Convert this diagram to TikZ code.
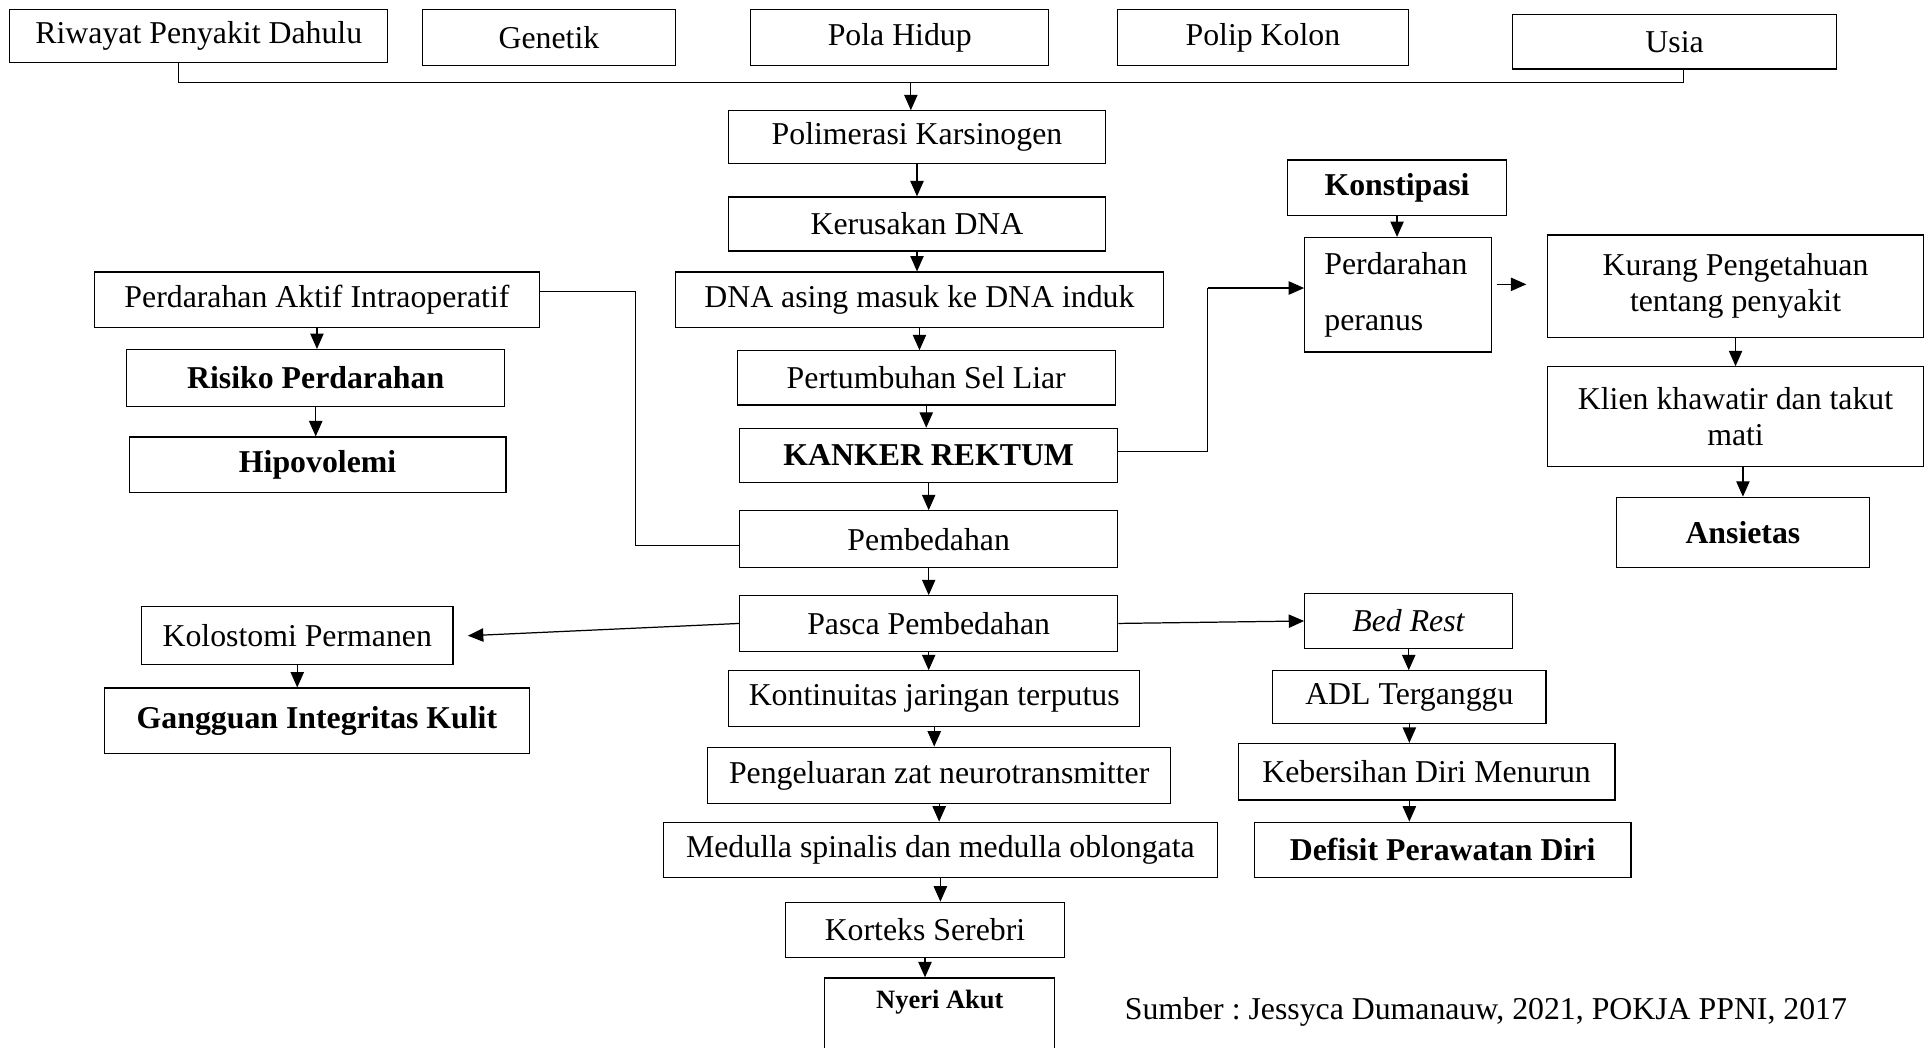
\documentclass[tikz,border=0pt]{standalone}
\usepackage{fontspec}
\setmainfont{Liberation Serif}
\usetikzlibrary{arrows.meta}
\frenchspacing

\tikzset{
  box/.style={draw, line width=0.6pt, inner sep=2pt, font=\fontsize{15.5}{18}\selectfont},
  boldbox/.style={box, font=\fontsize{15.5}{18}\selectfont\bfseries},
  sz/.style 2 args={minimum width=#1*0.6pt, minimum height=#2*0.6pt},
  arr/.style={line width=0.6pt, -{Triangle[length=7.5pt,width=6.5pt]}},
  ln/.style={line width=0.6pt}
}

\begin{document}
\begin{tikzpicture}[x=0.6pt, y=-0.6pt]
\useasboundingbox (0,0) rectangle (1568,851);

% faktor risiko
\node[box, sz={307}{43}] (riwayat) at (161.5,29.5) {Riwayat Penyakit Dahulu};
\node[box, sz={206}{45}] (genetik) at (446,30.5) {Genetik};
\node[box, sz={242}{45}] (polahidup) at (731,30.5) {Pola Hidup};
\node[box, sz={236}{45}] (polip) at (1026,30.5) {Polip Kolon};
\node[box, sz={263}{44}] (usia) at (1360.5,34) {Usia};

% jalur tengah
\node[box, sz={306}{43}] (polimer) at (745,111.5) {Polimerasi Karsinogen};
\node[box, sz={306}{44}] (kerusakan) at (745,182) {Kerusakan DNA};
\node[box, sz={396}{45}] (dnaasing) at (747,243.5) {DNA asing masuk ke DNA induk};
\node[box, sz={307}{44}] (seliar) at (752.5,307) {Pertumbuhan Sel Liar};
\node[boldbox, sz={307}{44}] (kanker) at (754.5,370) {KANKER REKTUM};
\node[box, sz={307}{46}] (bedah) at (754.5,438) {Pembedahan};
\node[box, sz={307}{45}] (pasca) at (754.5,506.5) {Pasca Pembedahan};
\node[box, sz={334}{45}] (kontinuitas) at (759,567.5) {Kontinuitas jaringan terputus};
\node[box, sz={376}{46}] (neuro) at (763,630) {Pengeluaran zat neurotransmitter};
\node[box, sz={450}{45}] (medulla) at (764,690.5) {Medulla spinalis dan medulla oblongata};
\node[box, sz={227}{45}] (korteks) at (751.5,755.5) {Korteks Serebri};
\node[box, font=\fontsize{12.9}{15}\selectfont\bfseries, minimum width=187*0.6pt, anchor=north, inner ysep=6pt, text depth=30pt] (nyeri) at (763.5,794) {Nyeri Akut};

% kiri
\node[box, sz={361}{45}] (aktif) at (257.5,243.5) {Perdarahan Aktif Intraoperatif};
\node[boldbox, sz={307}{46}] (risiko) at (256.5,307) {Risiko Perdarahan};
\node[boldbox, sz={306}{45}] (hipo) at (258,377.5) {Hipovolemi};
\node[box, sz={253}{47}] (kolostomi) at (241.5,516.5) {Kolostomi Permanen};
\node[boldbox, sz={345}{53}] (kulit) at (257.5,585.5) {Gangguan Integritas Kulit};

% kanan
\node[boldbox, sz={178}{45}] (konstipasi) at (1135,152.5) {Konstipasi};
\node[box, sz={152}{93}, text width=72pt, align=left, font=\fontsize{15.5}{27}\selectfont] (peranus) at (1136,239.5) {Perdarahan\\peranus};
\node[box, sz={306}{83}, align=center, font=\fontsize{15.5}{17.5}\selectfont] (kurang) at (1410,232.5) {Kurang Pengetahuan\\tentang penyakit};
\node[box, sz={306}{81}, align=center, font=\fontsize{15.5}{17.5}\selectfont] (klien) at (1410,338.5) {Klien khawatir dan takut\\mati};
\node[boldbox, sz={206}{57}] (ansietas) at (1416,432.5) {Ansietas};
\node[box, sz={169}{45}] (bedrest) at (1144.5,504.5) {\textit{Bed Rest}};
\node[box, sz={222}{43}] (adl) at (1145,566.5) {ADL Terganggu};
\node[box, sz={306}{46}] (bersih) at (1159,627) {Kebersihan Diri Menurun};
\node[boldbox, sz={306}{45}] (defisit) at (1172,690.5) {Defisit Perawatan Diri};

\node[anchor=base west, font=\fontsize{15.5}{18}\selectfont] (sumber) at (908,828) {Sumber : Jessyca Dumanauw, 2021, POKJA PPNI, 2017};

% garis penghubung
\coordinate (jl) at (145,67);
\coordinate (jr) at (1368,67);
\coordinate (jm) at (740,67);
\path[draw,ln] (riwayat.south -| jl) -- (jl) -- (jr) -- (usia.south -| jr);
\path[draw,arr] (jm) -- (jm |- polimer.north);

\path[draw,arr] (polimer.south) -- (polimer.south |- kerusakan.north);
\path[draw,arr] (kerusakan.south) -- (kerusakan.south |- dnaasing.north);
\path[draw,arr] (dnaasing.south) -- (dnaasing.south |- seliar.north);
\path[draw,arr] (seliar.south) -- (seliar.south |- kanker.north);
\path[draw,arr] (kanker.south) -- (kanker.south |- bedah.north);
\path[draw,arr] (bedah.south) -- (bedah.south |- pasca.north);
\path[draw,arr] (pasca.south) -- (pasca.south |- kontinuitas.north);
\path[draw,arr] (kontinuitas.south) -- (kontinuitas.south |- neuro.north);
\path[draw,arr] (neuro.south) -- (neuro.south |- medulla.north);
\path[draw,arr] (medulla.south) -- (medulla.south |- korteks.north);
\path[draw,arr] (korteks.south) -- (korteks.south |- nyeri.north);

\coordinate (ka) at (516,237);
\coordinate (kb) at (516,443);
\path[draw,ln] (aktif.east |- ka) -- (ka) -- (kb) -- (kb -| bedah.west);
\path[draw,arr] (aktif.south) -- (aktif.south |- risiko.north);
\path[draw,arr] (risiko.south) -- (risiko.south |- hipo.north);
\path[draw,arr] (pasca.west) -- ([xshift=7pt]kolostomi.east);
\path[draw,arr] (kolostomi.south) -- (kolostomi.south |- kulit.north);

\coordinate (kk) at (981,367);
\coordinate (kp) at (981,234);
\path[draw,ln] (kanker.east |- kk) -- (kk) -- (kp);
\path[draw,arr] (kp) -- (kp -| peranus.west);
\path[draw,arr] (konstipasi.south) -- (konstipasi.south |- peranus.north);
\coordinate (pk) at (1240,231);
\path[draw,arr,shorten <=2pt] (peranus.east |- pk) -- (pk);
\path[draw,arr] (kurang.south) -- (kurang.south |- klien.north);
\path[draw,arr] (ansietas.north |- klien.south) -- (ansietas.north);

\path[draw,arr] (pasca.east) -- (bedrest.west);
\path[draw,arr] (bedrest.south) -- (bedrest.south |- adl.north);
\path[draw,arr] (adl.south) -- (adl.south |- bersih.north);
\path[draw,arr] (adl.south |- bersih.south) -- (adl.south |- defisit.north);
\end{tikzpicture}
\end{document}
